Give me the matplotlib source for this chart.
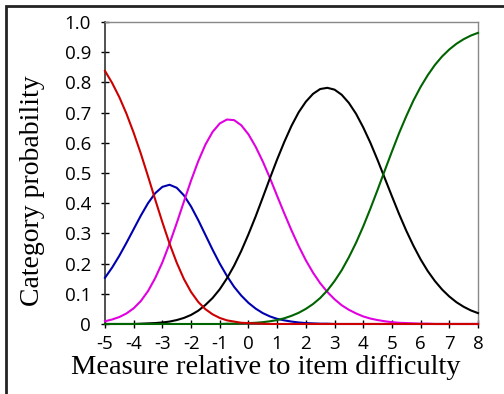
import matplotlib
matplotlib.use("Agg")
import matplotlib.pyplot as plt
from matplotlib.patches import Rectangle

# measure relative to item difficulty (logits)
measure = [-5, -4.75, -4.5, -4.25, -4, -3.75, -3.5, -3.25, -3, -2.75, -2.5, -2.25,
           -2, -1.75, -1.5, -1.25, -1, -0.75, -0.5, -0.25, 0, 0.25, 0.5, 0.75,
           1, 1.25, 1.5, 1.75, 2, 2.25, 2.5, 2.75, 3, 3.25, 3.5, 3.75, 4, 4.25,
           4.5, 4.75, 5, 5.25, 5.5, 5.75, 6, 6.25, 6.5, 6.75, 7, 7.25, 7.5, 7.75, 8]

# category probabilities
cat0 = [0.838, 0.798, 0.751, 0.696, 0.633, 0.564, 0.489, 0.412, 0.337, 0.266, 0.203,
        0.149, 0.106, 0.073, 0.049, 0.032, 0.020, 0.012, 0.008, 0.004, 0.003, 0.002,
        0.001] + [0] * 30
cat1 = [0.153, 0.187, 0.226, 0.269, 0.314, 0.359, 0.400, 0.433, 0.454, 0.461, 0.451,
        0.426, 0.389, 0.344, 0.295, 0.246, 0.200, 0.159, 0.123, 0.094, 0.070, 0.051,
        0.036, 0.025, 0.017, 0.012, 0.008, 0.005, 0.003, 0.002, 0.001, 0.001] + [0] * 21
cat2 = [0.009, 0.015, 0.023, 0.035, 0.052, 0.076, 0.109, 0.152, 0.204, 0.266, 0.334,
        0.405, 0.475, 0.539, 0.594, 0.636, 0.664, 0.677, 0.675, 0.658, 0.628, 0.587,
        0.538, 0.483, 0.424, 0.366, 0.310, 0.258, 0.211, 0.170, 0.135, 0.106, 0.082,
        0.062, 0.047, 0.035, 0.025, 0.018, 0.013, 0.009, 0.006, 0.004, 0.003, 0.002,
        0.001, 0.001] + [0] * 7
cat3 = [0, 0, 0, 0, 0, 0.001, 0.002, 0.003, 0.005, 0.008, 0.013, 0.020, 0.030, 0.044,
        0.063, 0.086, 0.115, 0.151, 0.193, 0.242, 0.297, 0.356, 0.419, 0.483, 0.545,
        0.603, 0.656, 0.701, 0.736, 0.762, 0.778, 0.782, 0.776, 0.759, 0.732, 0.696,
        0.651, 0.600, 0.543, 0.483, 0.423, 0.364, 0.309, 0.259, 0.214, 0.175, 0.142,
        0.114, 0.091, 0.072, 0.057, 0.045, 0.036]
cat4 = [0] * 17 + [0.001, 0.001, 0.002, 0.003, 0.004, 0.006, 0.009, 0.013, 0.019,
                   0.027, 0.037, 0.050, 0.066, 0.086, 0.111, 0.142, 0.178, 0.221,
                   0.269, 0.323, 0.382, 0.444, 0.508, 0.571, 0.632, 0.688, 0.740,
                   0.785, 0.824, 0.858, 0.886, 0.909, 0.928, 0.943, 0.955, 0.964]

xticks = list(range(-5, 9))
yticks = [0, 0.1, 0.2, 0.3, 0.4, 0.5, 0.6, 0.7, 0.8, 0.9, 1.0]
ylabels = ['0', '0.1', '0.2', '0.3', '0.4', '0.5', '0.6', '0.7', '0.8', '0.9', '1.0']

fig = plt.figure(figsize=(5.04, 3.94), dpi=100)
ax = fig.add_axes([0.2083, 0.1777, 0.7401, 0.7665])

series = [(cat1, '#0000b0'), (cat2, '#e000e0'), (cat3, '#000000'),
          (cat4, '#006400'), (cat0, '#cc0000')]
for vals, col in series:
    ax.plot(measure, vals, color=col, lw=1.5, clip_on=False, zorder=3)

ax.set_xlim(-5, 8)
ax.set_ylim(0, 1)
ax.set_xticks(xticks)
ax.set_xticklabels([str(t) for t in xticks])
ax.set_yticks(yticks)
ax.set_yticklabels(ylabels)

for lab in ax.get_xticklabels() + ax.get_yticklabels():
    lab.set_fontfamily('Open Sans')
    lab.set_fontsize(13.5)
ax.tick_params(axis='x', direction='inout', length=6, width=1, pad=5)
ax.tick_params(axis='y', direction='inout', length=6, width=1, pad=7)

for s in ['left', 'bottom']:
    ax.spines[s].set_color('#333333')
    ax.spines[s].set_linewidth(1.2)
for s in ['top', 'right']:
    ax.spines[s].set_color('#888888')
    ax.spines[s].set_linewidth(1.0)

fig.text(0.528, 0.068, 'Measure relative to item difficulty', family='Liberation Serif',
         fontsize=20.5, ha='center', va='center')
fig.text(0.0635, 0.515, 'Category probability', family='Liberation Serif',
         fontsize=20, ha='center', va='center', rotation=90)

# frame around the figure (only left and top edges are visible)
fig.patches.append(Rectangle((0.012, -0.1), 1.2, 1.085, fill=False, lw=2,
                             edgecolor='#222222', transform=fig.transFigure))

fig.savefig('out.png', dpi=100)
